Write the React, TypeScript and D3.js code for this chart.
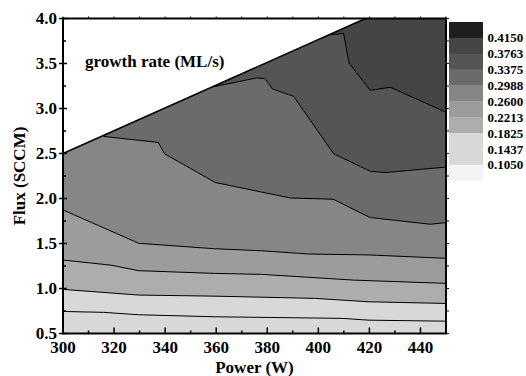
import React from 'react';
import * as d3 from 'd3';

type Pt = [number, number];

// axis ranges and ticks
const powerDomain: [number, number] = [300, 450];
const fluxDomain: [number, number] = [0.5, 4.0];
const powerTicks = [300, 320, 340, 360, 380, 400, 420, 440];
const powerMinorTicks = [310, 330, 350, 370, 390, 410, 430, 450];
const fluxTicks = [0.5, 1.0, 1.5, 2.0, 2.5, 3.0, 3.5, 4.0];
const fluxMinorTicks = [0.75, 1.25, 1.75, 2.25, 2.75, 3.25, 3.75];

// contour levels (legend), low to high
const levels = [0.105, 0.1437, 0.1825, 0.2213, 0.26, 0.2988, 0.3375, 0.3763, 0.415];
// legend band colours, top (highest) to bottom
const legendColors = ['#1e1e1e', '#454545', '#555555', '#6b6b6b', '#868686', '#9c9c9c', '#adadad', '#d8d8d8', '#d8d8d8', '#f4f4f4'];
// fill colours of plot regions, bottom region first
const regionColors = ['#d8d8d8', '#d8d8d8', '#adadad', '#9c9c9c', '#868686', '#6b6b6b', '#555555', '#454545'];

// upper-left boundary of the measured domain
const boundary: Pt[] = [[300, 2.5], [418.5, 4.0]];

// contour lines (power W, flux SCCM)
const contour1437: Pt[] = [[300, 0.745], [315.9, 0.735], [329.7, 0.708], [359.3, 0.686], [409.3, 0.668], [419.9, 0.648], [450, 0.637]];
const contour1825: Pt[] = [[300, 0.99], [329.7, 0.927], [359.3, 0.915], [398.8, 0.89], [419.9, 0.852], [450, 0.834]];
const contour2213: Pt[] = [[300, 1.316], [318.6, 1.26], [329.7, 1.198], [359.3, 1.168], [377.8, 1.157], [414, 1.093], [450, 1.057]];
const contour2600: Pt[] = [[300, 1.873], [329.7, 1.502], [359.3, 1.442], [377.8, 1.419], [396.2, 1.383], [419.9, 1.373], [450, 1.335]];
const contour2988: Pt[] = [[315.9, 2.69], [337.3, 2.623], [339.8, 2.497], [359.6, 2.178], [389, 2.006], [405.8, 1.992], [420.2, 1.789], [443.8, 1.714], [450, 1.732]];
const contour3375: Pt[] = [[358.7, 3.24], [375.8, 3.34], [379.1, 3.332], [382, 3.218], [390.3, 3.136], [406, 2.497], [420.5, 2.301], [426.5, 2.289], [450, 2.349]];
const contour3763: Pt[] = [[404.7, 3.82], [409.9, 3.834], [412, 3.508], [420.3, 3.202], [428.2, 3.236], [450, 2.958]];

const contours = [contour1437, contour1825, contour2213, contour2600, contour2988, contour3375, contour3763];

const W = 526;
const H = 376;
const left = 63, right = 446, top = 18.5, bottom = 333.5;
const font = '"Liberation Serif", "Times New Roman", serif';

const App: React.FC = () => {
  const x = d3.scaleLinear().domain(powerDomain).range([left, right]);
  const y = d3.scaleLinear().domain(fluxDomain).range([bottom, top]);
  const line = d3.line<Pt>().x(d => x(d[0])).y(d => y(d[1]));

  const domainPoly: Pt[] = [
    [powerDomain[0], fluxDomain[0]],
    [powerDomain[1], fluxDomain[0]],
    [powerDomain[1], fluxDomain[1]],
    boundary[1],
    boundary[0],
  ];

  const legendY = d3.scaleLinear().domain([0, legendColors.length]).range([22, 180.7]);
  const levelsDesc = levels.slice().reverse();

  return (
    <svg width={W} height={H} style={{ position: 'absolute', left: 0, top: 0 }} fontFamily={font} fontWeight="bold">
      <defs>
        <clipPath id="domain">
          <path d={line(domainPoly) + 'Z'} />
        </clipPath>
      </defs>
      <rect width={W} height={H} fill="#fff" />

      <g clipPath="url(#domain)">
        <rect x={left} y={top} width={right - left} height={bottom - top} fill={regionColors[0]} />
        {contours.map((c, i) => (
          <path
            key={i}
            d={line([...c, [powerDomain[1], fluxDomain[1]], [powerDomain[0], fluxDomain[1]]]) + 'Z'}
            fill={regionColors[i + 1]}
          />
        ))}
        {contours.map((c, i) => (
          <path key={'l' + i} d={line(c) || ''} fill="none" stroke="#000" strokeWidth={1} />
        ))}
      </g>
      <path d={line(boundary) || ''} stroke="#000" strokeWidth={1.5} fill="none" />

      {/* frame */}
      <rect x={left} y={top} width={right - left} height={bottom - top} fill="none" stroke="#000" strokeWidth={2} />

      {/* x ticks */}
      {powerTicks.map(t => (
        <g key={'xt' + t}>
          <line x1={x(t)} x2={x(t)} y1={bottom} y2={bottom - 6} stroke="#000" strokeWidth={1.5} />
          <line x1={x(t)} x2={x(t)} y1={top} y2={top - 2} stroke="#000" strokeWidth={1} />
          <text x={x(t)} y={353} textAnchor="middle" fontSize={17}>{t}</text>
        </g>
      ))}
      {powerMinorTicks.map(t => (
        <g key={'xm' + t}>
          <line x1={x(t)} x2={x(t)} y1={bottom} y2={bottom - 3} stroke="#000" strokeWidth={1.5} />
          <line x1={x(t)} x2={x(t)} y1={top} y2={top - 2} stroke="#000" strokeWidth={1} />
        </g>
      ))}

      {/* y ticks */}
      {fluxTicks.map(t => (
        <g key={'yt' + t}>
          <line x1={left - 4} x2={left + 4} y1={y(t)} y2={y(t)} stroke="#000" strokeWidth={1.5} />
          <line x1={right} x2={right + 3} y1={y(t)} y2={y(t)} stroke="#000" strokeWidth={1} />
          <text x={57} y={y(t)} dy="0.35em" textAnchor="end" fontSize={17}>{d3.format('.1f')(t)}</text>
        </g>
      ))}
      {fluxMinorTicks.map(t => (
        <g key={'ym' + t}>
          <line x1={left} x2={left + 3} y1={y(t)} y2={y(t)} stroke="#000" strokeWidth={1.5} />
          <line x1={right} x2={right + 3} y1={y(t)} y2={y(t)} stroke="#000" strokeWidth={1} />
        </g>
      ))}

      {/* axis titles */}
      <text x={(left + right) / 2} y={373} textAnchor="middle" fontSize={17}>Power (W)</text>
      <text transform={`translate(25, ${(top + bottom) / 2}) rotate(-90)`} textAnchor="middle" fontSize={17}>Flux (SCCM)</text>
      <text x={85} y={66.5} fontSize={17}>growth rate (ML/s)</text>

      {/* colour legend */}
      {legendColors.map((c, i) => (
        <rect key={'lg' + i} x={449} y={legendY(i)} width={34} height={legendY(i + 1) - legendY(i) + 0.3} fill={c} />
      ))}
      {levelsDesc.map((v, i) => (
        <text key={'ll' + i} x={487.5} y={legendY(i + 1)} dy="0.35em" fontSize={13}>{d3.format('.4f')(v)}</text>
      ))}
    </svg>
  );
};

export default App;
